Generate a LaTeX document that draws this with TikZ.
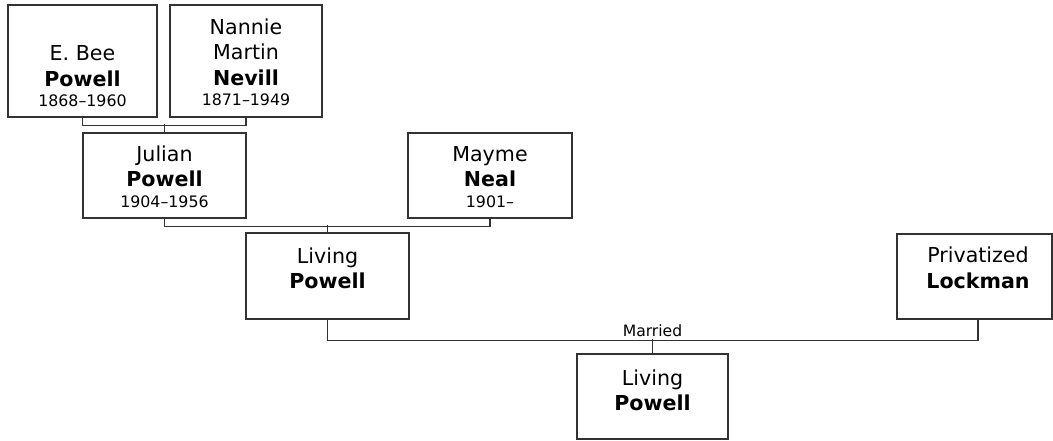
\documentclass[tikz,border=0pt]{standalone}
\usepackage{fontspec}
\setmainfont{DejaVu Sans}
\definecolor{ln}{HTML}{333333}
\tikzset{
  box/.style={draw=ln, line width=1.2pt, fill=white, inner sep=0pt},
  nm/.style={inner sep=0pt, align=center, anchor=north, font=\fontsize{20.6}{25.5}\selectfont},
  conn/.style={draw=ln, line width=1.2pt},
  lab/.style={inner sep=0pt, anchor=south, font=\fontsize{15.6}{19}\selectfont},
}
\newcommand\yrline[1]{{\fontsize{15.8}{25.5}\selectfont #1}}
\newcommand\firstln{\rule{0pt}{17pt}}
\begin{document}
\begin{tikzpicture}[x=1pt,y=-1pt]
\useasboundingbox (0,0) rectangle (1053,441);
% boxes
\node[box, minimum width=149pt, minimum height=112pt] (bee) at (82.5,61) {};
\node[box, minimum width=152pt, minimum height=112pt] (nannie) at (246,61) {};
\node[box, minimum width=163pt, minimum height=85pt] (julian) at (164.5,175.5) {};
\node[box, minimum width=164pt, minimum height=85pt] (mayme) at (490,175.5) {};
\node[box, minimum width=163pt, minimum height=86pt] (livA) at (327.5,276) {};
\node[box, minimum width=155pt, minimum height=85pt] (lock) at (974.5,276.5) {};
\node[box, minimum width=151pt, minimum height=85pt] (livB) at (652.5,396.5) {};
% texts
\node[nm] (beeT) at (82.5,43.7) {\firstln E. Bee\\\textbf{Powell}\\[-5pt]\yrline{1868–1960}};
\node[nm] (nannieT) at (246,17) {\firstln Nannie\\Martin\\\textbf{Nevill}\\[-5pt]\yrline{1871–1949}};
\node[nm] (julianT) at (164.5,144) {\firstln Julian\\\textbf{Powell}\\[-5pt]\yrline{1904–1956}};
\node[nm] (maymeT) at (490,144) {\firstln Mayme\\\textbf{Neal}\\[-5pt]\yrline{1901–}};
\node[nm] (livAT) at (327.5,246) {\firstln Living\\\textbf{Powell}};
\node[nm] (lockT) at (978,245.5) {\firstln Privatized\\\textbf{Lockman}};
\node[nm] (livBT) at (652.5,368) {\firstln Living\\\textbf{Powell}};
% connectors
\draw[conn] (bee.south) -- ++(0,8) -| (nannie.south);
\draw[conn] (julian.north) -- ++(0,-8);
\draw[conn] (julian.south) -- ++(0,8) -| (mayme.south);
\draw[conn] (livA.north) -- ++(0,-7);
\draw[conn] (livA.south) -- ++(0,21) -| (lockT |- lock.south);
\draw[conn] (livB.north) -- ++(0,-14);
\path (livB.north) ++(0,-16) node[lab] (married) {Married};
\end{tikzpicture}
\end{document}
